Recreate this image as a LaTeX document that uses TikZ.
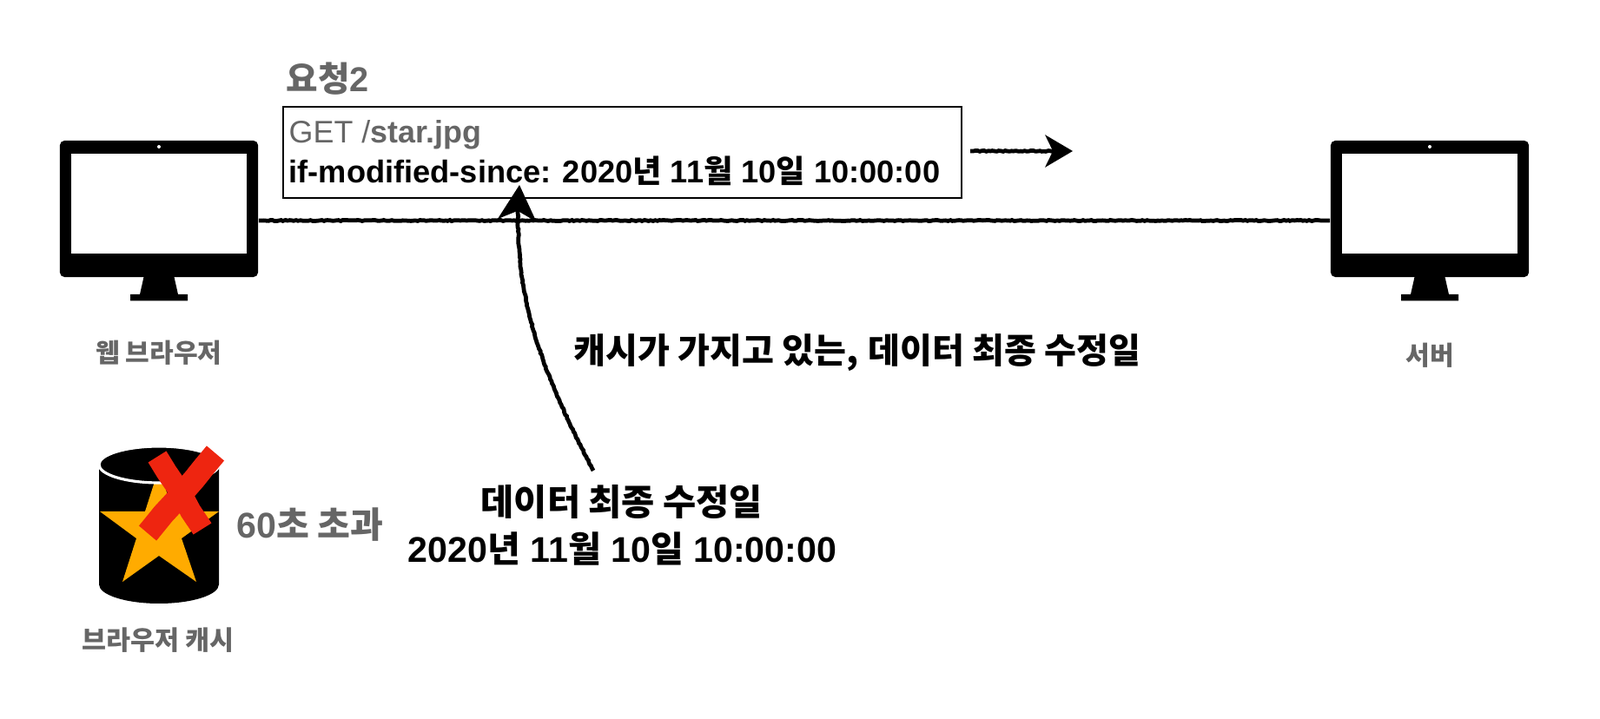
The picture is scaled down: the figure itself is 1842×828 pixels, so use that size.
\documentclass[tikz,border=0pt]{standalone}
\usepackage{fontspec}
\setmainfont{Liberation Sans}
\newfontfamily\krfont{Noto Sans CJK KR}
\usetikzlibrary{positioning, calc, arrows.meta, decorations.pathmorphing}
\newcommand{\kr}[1]{{\krfont #1}}
\definecolor{labelgray}{HTML}{666666}
\definecolor{starorange}{HTML}{FFAB00}
\definecolor{crossred}{HTML}{EE2510}
\tikzset{monitor/.style={fill=black, rounded corners=1.5pt, minimum width=2.28cm, minimum height=1.57cm, inner sep=0pt}}
\tikzset{screen/.style={fill=white, minimum width=2.02cm, minimum height=1.15cm, inner sep=0pt}}
\tikzset{chalk/.style={line width=1.35pt, black, decorate, decoration={random steps, segment length=.7pt, amplitude=.16pt, pre=lineto, pre length=1pt, post=lineto, post length=3pt}}}
\tikzset{rough/.style={crossred, decorate, decoration={random steps, segment length=5pt, amplitude=.25pt, pre=lineto, pre length=1pt, post=lineto, post length=1pt}}}
\tikzset{graylabel/.style={text=labelgray, font=\bfseries\fontsize{8.55}{10}\selectfont, inner sep=0pt}}
\tikzset{biglabel/.style={text=black, font=\bfseries\fontsize{11.4}{13}\selectfont, inner sep=0pt}}
\tikzset{boxtext/.style={font=\fontsize{10.2}{12}\selectfont, inner sep=0pt, anchor=base west}}
\begin{document}
\begin{tikzpicture}[x=.01cm, y=-.01cm]
      \useasboundingbox (0,0) rectangle (1842,828);

      \foreach \x/\name in {183/browser, 1646/server} {
        \node[monitor] (\name) at (\x,240.5) {};
        \node[screen] (\name screen) at (\x,234.5) {};
        \fill[white] (\x,169) circle (2);
        \fill (\x-17.5,319) -- (\x+17.5,319) -- (\x+22,339) -- (\x+33,339) -- (\x+33,346.5)
          -- (\x-33,346.5) -- (\x-33,339) -- (\x-22,339) -- cycle;
      }
      \node[graylabel] (browserlabel) at (183,406) {\kr{웹 브라우저}};
      \node[graylabel] (serverlabel) at (1646,409) {\kr{서버}};

      \draw[chalk] ($(browser.east)+(0,13.5)$) -- ($(server.west)+(0,13.5)$);

      \node[draw=black, line width=.6pt, minimum width=7.81cm, minimum height=1.05cm, inner sep=0pt] (reqbox) at (716.5,175.5) {};
      \node[graylabel, anchor=base west, font=\bfseries\fontsize{11.3}{13}\selectfont] (reqtitle) at (329,106) {\kr{요청}2};
      \node[boxtext, text=labelgray] (getline) at (332,165) {GET /\textbf{star.jpg}};
      \node[boxtext, font=\bfseries\fontsize{10.3}{12}\selectfont] (sinceline) at (332,211) {if-modified-since: 2020\kr{년} 11\kr{월} 10\kr{일} 10:00:00};

      \coordinate (sendfrom) at (1117,174);
      \coordinate (sendto) at (1235,174);
      \draw[chalk, -{Stealth[length=9pt, width=10.5pt, inset=2.5pt]}] (sendfrom) -- (sendto);

      \node[biglabel] (cachehas) at (987,406) {\kr{캐시가 가지고 있는,} \kr{데이터 최종 수정일}};
      \node[biglabel, font=\bfseries\fontsize{11.8}{13}\selectfont] (lastmod) at (716,578) {\kr{데이터 최종 수정일}};
      \node[biglabel, font=\bfseries\fontsize{11.7}{13}\selectfont] (lastdate) at (716.5,632) {2020\kr{년} 11\kr{월} 10\kr{일} 10:00:00};

      \coordinate (copyfrom) at (683,542);
      \coordinate (copyto) at (598,213);
      \draw[chalk, -{Stealth[length=11.5pt, width=12.5pt, inset=3pt]}] (copyfrom) .. controls (625,430) and (588,340) .. (copyto);

      % cache cylinder
      \fill (114,535) -- (114,673) arc[start angle=180, end angle=0, x radius=69, y radius=22] -- (252,535) -- cycle;
      \fill[starorange] (183,539) -- (199,589) -- (252,589) -- (209,620) -- (226,670) -- (183,640)
        -- (141,670) -- (157,620) -- (115,589) -- (167,589) -- cycle;
      \draw[white, line width=.9pt, fill=black] (183,535) ellipse[x radius=69, y radius=21];
      \draw[rough, line width=7pt] (181,526) -- (233,609);
      \draw[rough, line width=7.5pt] (248,522) -- (170,614);
      \node[graylabel, font=\bfseries\fontsize{11.7}{13}\selectfont] (expired) at (357,604) {60\kr{초 초과}};
      \node[graylabel, font=\bfseries\fontsize{8.65}{10}\selectfont] (cachelabel) at (182,737) {\kr{브라우저 캐시}};
\end{tikzpicture}
\end{document}
